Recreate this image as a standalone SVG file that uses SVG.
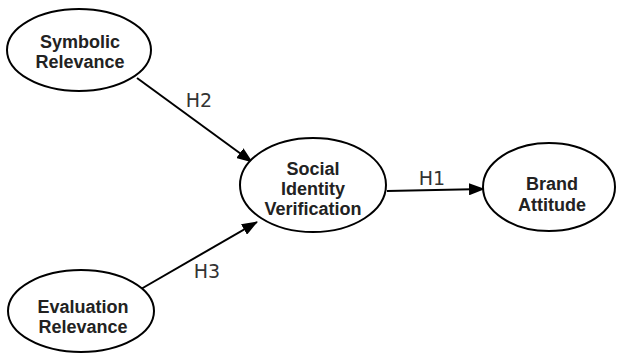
<svg xmlns="http://www.w3.org/2000/svg" width="619" height="362" viewBox="0 0 619 362">
<style>
.node{fill:#fff;stroke:#000;stroke-width:2}
.nt{font-family:"Liberation Sans",Arial,sans-serif;font-weight:bold;font-size:18px;fill:#222;text-anchor:middle}
.el{font-family:"DejaVu Sans",sans-serif;font-size:19px;fill:#333;text-anchor:middle}
.edge{stroke:#000;stroke-width:2;fill:none}
</style>
<defs>
<marker id="ah" markerWidth="16" markerHeight="12" refX="15" refY="6" orient="auto" markerUnits="userSpaceOnUse">
<path d="M0,0 L16,6 L0,12 Z" fill="#000"/>
</marker>
</defs>
<rect width="619" height="362" fill="#fff"/>
<g id="connectors">
<line class="edge" x1="137" y1="78" x2="252" y2="162" marker-end="url(#ah)"/>
<line class="edge" x1="141" y1="289" x2="257" y2="222" marker-end="url(#ah)"/>
<line class="edge" x1="387" y1="191" x2="484" y2="189" marker-end="url(#ah)"/>
<text class="el" x="199" y="107">H2</text>
<text class="el" x="207" y="278">H3</text>
<text class="el" x="432" y="185">H1</text>
</g>
<g id="symbolic">
<ellipse class="node" cx="79" cy="50" rx="72" ry="41"/>
<text class="nt" x="80" y="48">Symbolic</text>
<text class="nt" x="80" y="68">Relevance</text>
</g>
<g id="social">
<ellipse class="node" cx="313" cy="185" rx="73" ry="47"/>
<text class="nt" x="313" y="175">Social</text>
<text class="nt" x="313" y="195">Identity</text>
<text class="nt" x="313" y="215">Verification</text>
</g>
<g id="brand">
<ellipse class="node" cx="549" cy="187" rx="66" ry="44"/>
<text class="nt" x="552" y="190">Brand</text>
<text class="nt" x="552" y="211">Attitude</text>
</g>
<g id="evaluation">
<ellipse class="node" cx="81" cy="311" rx="73" ry="41"/>
<text class="nt" x="83" y="313">Evaluation</text>
<text class="nt" x="83" y="333">Relevance</text>
</g>
</svg>
